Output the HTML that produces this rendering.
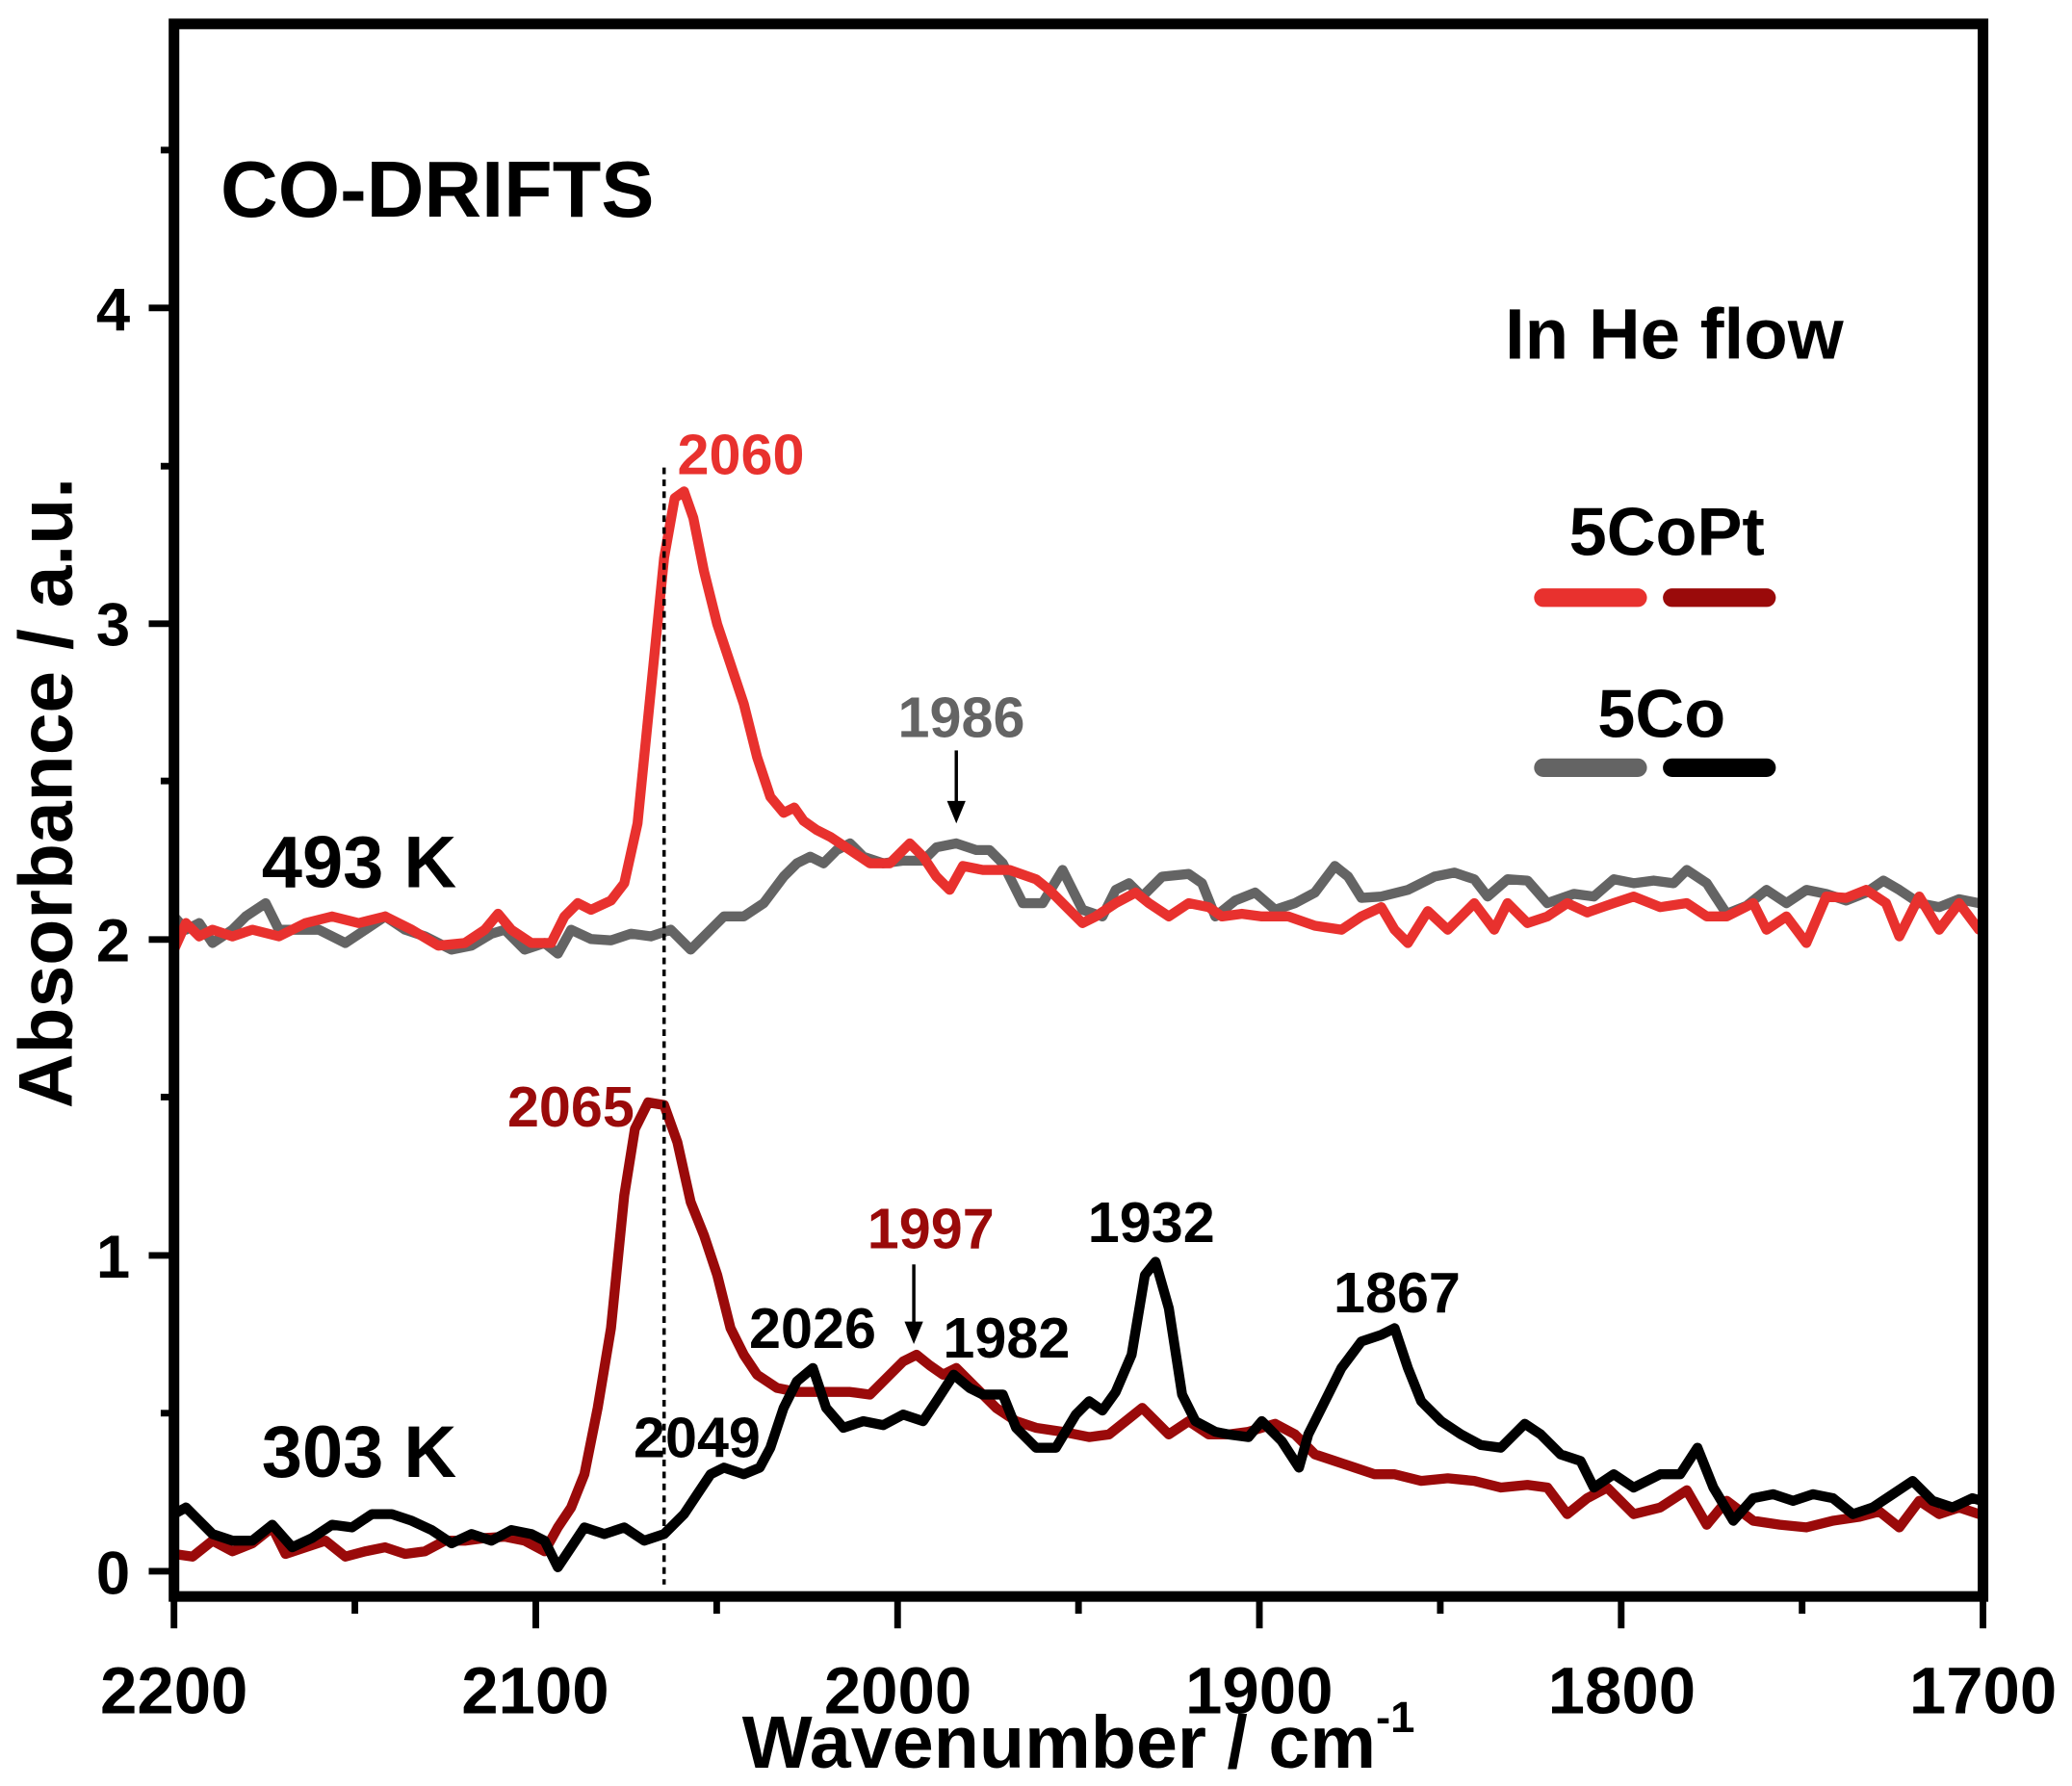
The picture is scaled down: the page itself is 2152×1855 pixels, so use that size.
<!DOCTYPE html>
<html><head><style>html,body{margin:0;padding:0;background:#fff}svg{display:block}</style></head><body>
<svg width="2152" height="1855" viewBox="0 0 1560 1344.7" xmlns="http://www.w3.org/2000/svg" font-family="Liberation Sans, Arial, sans-serif" font-weight="bold">
<rect width="1560" height="1345" fill="#fff"/>
<g fill="none" stroke-width="7.5" stroke-linejoin="round" stroke-linecap="round">
<polyline stroke="#646464" points="131,690 140,700 150,695 160,710 175,700 185,690 200,680 210,700 225,700 240,700 260,710 275,700 290,690 305,700 320,705 340,715 355,712 370,703 380,700 395,715 410,710 420,718 430,700 445,707 460,708 475,703 490,705 505,700 520,715 535,700 545,690 560,690 575,680 590,660 600,650 610,645 620,650 630,640 640,635 650,645 665,650 680,648 695,648 705,638 720,635 735,640 745,640 755,650 770,680 785,680 800,655 815,685 830,690 840,670 850,665 860,675 875,660 895,658 905,665 915,690 930,678 945,672 960,685 975,680 990,672 1005,652 1015,660 1025,676 1040,675 1060,670 1080,660 1095,657 1110,662 1120,675 1135,662 1150,663 1165,680 1185,673 1200,675 1215,662 1230,665 1245,663 1260,665 1270,655 1285,665 1300,688 1315,682 1330,670 1345,680 1360,670 1375,673 1390,678 1405,672 1418,663 1430,670 1445,680 1460,683 1475,677 1490,680"/>
<polyline stroke="#e8312e" points="131,715 140,695 150,705 160,700 175,705 190,700 210,705 230,695 250,690 270,695 290,690 310,700 330,712 350,710 365,700 375,688 385,700 400,710 415,710 425,690 435,680 445,685 460,678 470,665 480,620 490,520 500,420 508,375 515,370 522,390 530,430 540,470 550,500 560,530 570,570 580,600 590,612 598,608 605,618 615,625 625,630 640,640 655,650 670,650 685,635 695,645 705,660 715,670 725,652 740,655 760,655 780,662 790,670 800,680 815,695 825,690 840,680 855,672 865,680 880,690 895,680 910,683 920,690 935,688 950,690 970,690 990,697 1010,700 1025,690 1040,683 1050,700 1060,710 1075,686 1090,700 1110,680 1125,700 1135,680 1150,695 1165,690 1180,680 1195,687 1215,680 1230,675 1250,683 1270,680 1285,690 1300,690 1320,680 1330,700 1345,690 1360,710 1375,675 1390,676 1405,670 1420,680 1430,705 1445,675 1460,700 1475,680 1490,700"/>
<polyline stroke="#9a0a0a" points="131,1170 145,1172 160,1160 175,1168 190,1162 205,1150 215,1170 230,1165 245,1160 260,1172 275,1168 290,1165 305,1170 320,1168 335,1160 350,1160 365,1158 380,1157 395,1160 410,1168 420,1150 430,1135 440,1110 450,1060 460,1000 470,900 478,850 488,830 500,832 510,860 520,905 530,930 540,960 550,1000 560,1020 570,1035 585,1045 600,1048 620,1048 640,1048 655,1050 670,1035 680,1025 690,1020 700,1028 710,1035 720,1030 735,1045 750,1060 765,1070 780,1075 800,1078 820,1082 835,1080 850,1068 860,1060 870,1070 880,1080 895,1070 910,1080 925,1080 940,1078 960,1072 975,1080 990,1095 1005,1100 1020,1105 1035,1110 1050,1110 1070,1115 1090,1113 1110,1115 1130,1120 1150,1118 1165,1120 1180,1140 1195,1128 1210,1120 1230,1140 1250,1135 1270,1122 1285,1148 1300,1130 1320,1145 1340,1148 1360,1150 1380,1145 1400,1142 1415,1138 1430,1150 1445,1130 1460,1140 1475,1135 1490,1140"/>
<polyline stroke="#000" points="131,1140 140,1135 150,1145 160,1155 175,1160 190,1160 205,1148 220,1165 235,1158 250,1148 265,1150 280,1140 295,1140 310,1145 325,1152 340,1162 355,1155 370,1160 385,1152 400,1155 410,1160 420,1180 430,1165 440,1150 455,1155 470,1150 485,1160 500,1155 515,1140 525,1125 535,1110 545,1105 560,1110 572,1105 580,1090 590,1060 600,1040 612,1030 622,1060 635,1075 650,1070 665,1073 680,1065 695,1070 705,1055 718,1035 730,1045 740,1050 755,1050 765,1075 780,1090 795,1090 810,1065 820,1055 830,1062 840,1048 852,1020 862,960 870,950 880,985 890,1050 900,1070 915,1078 925,1080 940,1082 950,1070 965,1085 978,1105 985,1080 995,1060 1010,1030 1025,1010 1040,1005 1050,1000 1060,1030 1070,1055 1085,1070 1100,1080 1115,1088 1130,1090 1148,1072 1160,1080 1175,1095 1190,1100 1200,1120 1215,1110 1230,1120 1250,1110 1265,1110 1278,1090 1290,1120 1305,1145 1320,1128 1335,1125 1350,1130 1365,1125 1380,1128 1395,1140 1410,1135 1425,1125 1440,1115 1455,1130 1470,1135 1485,1128 1492,1130"/>
</g>
<line x1="500" y1="352" x2="500" y2="1193" stroke="#000" stroke-width="2.5" stroke-dasharray="5,4"/>
<rect x="131" y="18" width="1362" height="1184" fill="none" stroke="#000" stroke-width="8"/>
<g stroke="#000" stroke-width="5">
<line x1="131" y1="1202" x2="131" y2="1226"/><line x1="403.4" y1="1202" x2="403.4" y2="1226"/><line x1="675.8" y1="1202" x2="675.8" y2="1226"/><line x1="948.2" y1="1202" x2="948.2" y2="1226"/><line x1="1220.6" y1="1202" x2="1220.6" y2="1226"/><line x1="1493" y1="1202" x2="1493" y2="1226"/>
<line x1="267.2" y1="1202" x2="267.2" y2="1215"/><line x1="539.6" y1="1202" x2="539.6" y2="1215"/><line x1="812" y1="1202" x2="812" y2="1215"/><line x1="1084.4" y1="1202" x2="1084.4" y2="1215"/><line x1="1356.8" y1="1202" x2="1356.8" y2="1215"/>
<line x1="112" y1="1183" x2="131" y2="1183"/><line x1="112" y1="945.2" x2="131" y2="945.2"/><line x1="112" y1="707.4" x2="131" y2="707.4"/><line x1="112" y1="469.6" x2="131" y2="469.6"/><line x1="112" y1="231.8" x2="131" y2="231.8"/>
<line x1="121" y1="1064" x2="131" y2="1064"/><line x1="121" y1="826" x2="131" y2="826"/><line x1="121" y1="588" x2="131" y2="588"/><line x1="121" y1="351" x2="131" y2="351"/><line x1="121" y1="113" x2="131" y2="113"/>
</g>
<g font-size="50" text-anchor="middle">
<text x="131" y="1290">2200</text><text x="403" y="1290">2100</text><text x="676" y="1290">2000</text><text x="948" y="1290">1900</text><text x="1221" y="1290">1800</text><text x="1493" y="1290">1700</text>
</g>
<g font-size="46" text-anchor="end">
<text x="98" y="1200">0</text><text x="98" y="962">1</text><text x="98" y="724">2</text><text x="98" y="486">3</text><text x="98" y="249">4</text>
</g>
<text x="812" y="1331" font-size="56" text-anchor="middle">Wavenumber / cm<tspan font-size="33" dy="-27">-1</tspan></text>
<text transform="translate(54,597) rotate(-90)" font-size="57" text-anchor="middle">Absorbance / a.u.</text>
<text x="166" y="163" font-size="60">CO-DRIFTS</text>
<text x="1133" y="270" font-size="54">In He flow</text>
<text x="1255" y="418" font-size="51" text-anchor="middle">5CoPt</text>
<text x="1251" y="555" font-size="51" text-anchor="middle">5Co</text>
<g stroke-width="14" stroke-linecap="round">
<line x1="1162" y1="450" x2="1233" y2="450" stroke="#e8312e"/><line x1="1259" y1="450" x2="1330" y2="450" stroke="#9a0a0a"/>
<line x1="1162" y1="578" x2="1233" y2="578" stroke="#646464"/><line x1="1259" y1="578" x2="1330" y2="578" stroke="#000"/>
</g>
<text x="197" y="668" font-size="55">493 K</text>
<text x="197" y="1112" font-size="55">303 K</text>
<g font-size="43">
<text x="510" y="357" fill="#e8312e">2060</text>
<text x="676" y="555" fill="#646464">1986</text>
<text x="382" y="848" fill="#9a0a0a">2065</text>
<text x="653" y="940" fill="#9a0a0a">1997</text>
<text x="564" y="1015">2026</text>
<text x="710" y="1022">1982</text>
<text x="819" y="935">1932</text>
<text x="1004" y="988">1867</text>
<text x="477" y="1097">2049</text>
</g>
<g stroke="#000" stroke-width="2.5" fill="#000">
<line x1="720" y1="565" x2="720" y2="605"/><polygon points="713,603 727,603 720,620" stroke="none"/>
<line x1="688" y1="952" x2="688" y2="997"/><polygon points="681,995 695,995 688,1012" stroke="none"/>
</g>
</svg>
</body></html>
